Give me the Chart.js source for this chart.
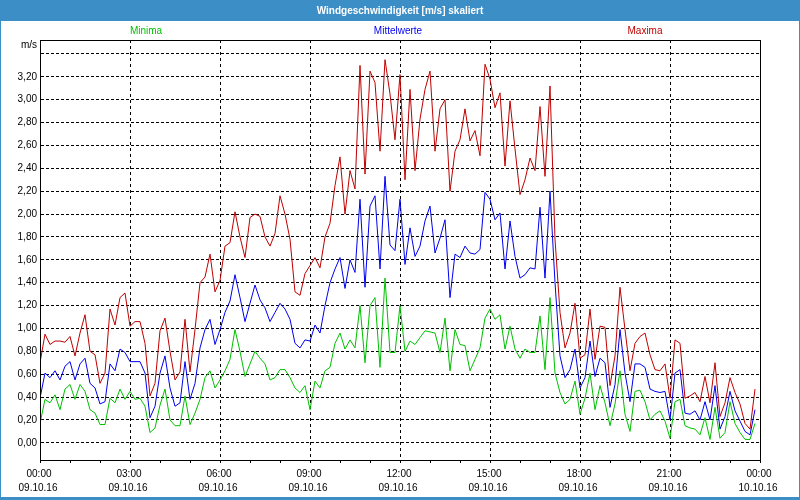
<!DOCTYPE html>
<html>
<head>
<meta charset="utf-8">
<script src="https://cdn.jsdelivr.net/npm/chart.js@4.4.0/dist/chart.umd.min.js"></script>
<style>
  html, body { margin: 0; padding: 0; background: #fff; }
  #wrap { width: 800px; height: 500px; }
</style>
</head>
<body>
<div id="wrap"><canvas id="c" width="800" height="500"></canvas></div>
<script>
const title = 'Windgeschwindigkeit [m/s] skaliert';
const unit = 'm/s';
const seriesNames = ['Minima', 'Mittelwerte', 'Maxima'];
const seriesColors = ['#00c000', '#0000f0', '#c00000'];
const timeLabels = ['00:00', '03:00', '06:00', '09:00', '12:00', '15:00', '18:00', '21:00', '00:00'];
const dateLabels = ['09.10.16', '09.10.16', '09.10.16', '09.10.16', '09.10.16', '09.10.16', '09.10.16', '09.10.16', '10.10.16'];
const yTicks = [0, 0.2, 0.4, 0.6, 0.8, 1.0, 1.2, 1.4, 1.6, 1.8, 2.0, 2.2, 2.4, 2.6, 2.8, 3.0, 3.2, 3.4];

// one value every 10 minutes, 09.10.16 00:00 .. 23:50
const minima = [
  0.17, 0.38, 0.35, 0.42, 0.29, 0.47, 0.51, 0.38, 0.51, 0.45, 0.29, 0.26, 0.16, 0.16, 0.39, 0.35, 0.47, 0.38, 0.45, 0.38, 0.39, 0.32, 0.09, 0.13,
  0.33, 0.47, 0.20, 0.15, 0.15, 0.41, 0.16, 0.26, 0.38, 0.57, 0.63, 0.48, 0.55, 0.63, 0.73, 0.99, 0.80, 0.58, 0.69, 0.80, 0.74, 0.69, 0.55, 0.57,
  0.64, 0.64, 0.57, 0.48, 0.44, 0.50, 0.29, 0.54, 0.48, 0.63, 0.66, 0.87, 0.96, 0.82, 0.90, 0.83, 1.20, 0.70, 1.20, 1.27, 0.66, 1.44, 0.79, 0.79,
  1.20, 0.80, 0.89, 0.86, 0.92, 0.98, 0.97, 0.96, 0.79, 1.09, 0.63, 0.99, 0.86, 0.85, 0.63, 0.73, 0.83, 1.09, 1.17, 1.08, 1.12, 0.82, 1.02, 0.82,
  0.74, 0.82, 0.79, 0.79, 1.11, 0.64, 1.27, 0.61, 0.44, 0.34, 0.38, 0.54, 0.25, 0.39, 0.61, 0.29, 0.50, 0.35, 0.15, 0.34, 0.63, 0.25, 0.10, 0.45,
  0.46, 0.36, 0.20, 0.25, 0.28, 0.19, 0.04, 0.36, 0.38, 0.15, 0.13, 0.12, 0.07, 0.22, 0.03, 0.31, 0.04, 0.09, 0.36, 0.17, 0.09, 0.03, 0.03, 0.17
];
const mittelwerte = [
  0.39, 0.61, 0.57, 0.63, 0.55, 0.67, 0.71, 0.55, 0.69, 0.74, 0.52, 0.48, 0.34, 0.36, 0.69, 0.63, 0.82, 0.79, 0.71, 0.71, 0.71, 0.61, 0.22, 0.32,
  0.61, 0.76, 0.48, 0.32, 0.35, 0.71, 0.38, 0.52, 0.83, 0.99, 1.08, 0.86, 0.99, 1.14, 1.24, 1.47, 1.27, 1.06, 1.22, 1.38, 1.25, 1.18, 1.06, 1.14,
  1.22, 1.17, 1.08, 0.87, 0.83, 0.90, 0.89, 1.03, 0.96, 1.20, 1.40, 1.52, 1.62, 1.35, 1.60, 1.49, 2.13, 1.36, 2.07, 2.16, 1.52, 2.33, 1.73, 1.68,
  2.13, 1.56, 1.88, 1.63, 1.72, 1.94, 2.07, 1.66, 1.79, 1.95, 1.27, 1.65, 1.62, 1.72, 1.66, 1.65, 1.69, 2.19, 2.13, 1.95, 2.01, 1.52, 1.94, 1.63,
  1.44, 1.47, 1.53, 1.52, 2.06, 1.44, 2.20, 1.40, 0.76, 0.57, 0.64, 0.82, 0.48, 0.57, 0.89, 0.58, 0.74, 0.70, 0.31, 0.51, 0.99, 0.61, 0.36, 0.69,
  0.69, 0.66, 0.47, 0.45, 0.44, 0.45, 0.20, 0.61, 0.64, 0.26, 0.25, 0.28, 0.20, 0.36, 0.20, 0.50, 0.12, 0.23, 0.45, 0.28, 0.19, 0.10, 0.07, 0.29
];
const maxima = [
  0.70, 0.95, 0.86, 0.89, 0.89, 0.88, 0.93, 0.76, 0.96, 1.12, 0.80, 0.77, 0.52, 0.61, 1.17, 1.03, 1.27, 1.31, 1.02, 1.06, 1.06, 0.87, 0.41, 0.52,
  0.98, 1.09, 0.80, 0.55, 0.62, 1.08, 0.62, 0.99, 1.40, 1.45, 1.65, 1.32, 1.42, 1.72, 1.75, 2.02, 1.80, 1.62, 1.97, 2.00, 1.98, 1.80, 1.72, 1.83,
  2.16, 2.00, 1.78, 1.32, 1.29, 1.48, 1.55, 1.62, 1.53, 1.80, 1.92, 2.25, 2.50, 2.00, 2.38, 2.22, 3.30, 2.35, 3.25, 3.15, 2.55, 3.35, 3.05, 2.65,
  3.22, 2.30, 3.09, 2.38, 2.83, 3.09, 3.25, 2.55, 2.92, 3.00, 2.20, 2.55, 2.65, 2.92, 2.64, 2.73, 2.51, 3.31, 3.18, 2.93, 3.06, 2.42, 2.99, 2.57,
  2.17, 2.30, 2.49, 2.38, 2.94, 2.33, 3.12, 1.78, 1.14, 0.83, 0.96, 1.22, 0.74, 0.77, 1.17, 0.73, 1.02, 1.01, 0.50, 0.76, 1.36, 0.99, 0.63, 0.87,
  0.93, 0.96, 0.77, 0.64, 0.63, 0.69, 0.39, 0.90, 0.87, 0.39, 0.41, 0.44, 0.36, 0.58, 0.35, 0.70, 0.23, 0.35, 0.57, 0.44, 0.34, 0.17, 0.12, 0.47
];

const FONT = '"Liberation Sans", Arial, sans-serif';
const STEPS_PER_LABEL = 18; // 3 hours in 10 min steps
const hourTicks = [];
for (let i = 0; i <= 144; i += 6) hourTicks.push(i);

const toPoints = (arr) => arr.map((v, i) => ({ x: i, y: v }));

// window frame, title bar, series names, unit, plot border, two-line time labels
const framePlugin = {
  id: 'frame',
  beforeDraw(chart) {
    const { ctx, width, height } = chart;
    ctx.save();
    ctx.fillStyle = '#3c8ec6';
    ctx.fillRect(0, 0, width, height);
    ctx.fillStyle = '#ffffff';
    ctx.fillRect(1, 21, width - 2, height - 24);
    ctx.font = 'bold 10px ' + FONT;
    ctx.textAlign = 'center';
    ctx.textBaseline = 'middle';
    ctx.fillText(title, width / 2, 11);
    ctx.restore();
  },
  afterDraw(chart) {
    const { ctx, chartArea } = chart;
    const xScale = chart.scales.x;
    ctx.save();
    ctx.strokeStyle = '#000';
    ctx.lineWidth = 1;
    ctx.strokeRect(chartArea.left + 0.5, chartArea.top + 0.5, chartArea.right - chartArea.left, chartArea.bottom - chartArea.top);
    ctx.font = '10px ' + FONT;
    ctx.textBaseline = 'middle';
    ctx.textAlign = 'center';
    const legendX = [146, 398, 645];
    seriesNames.forEach((name, i) => {
      ctx.fillStyle = seriesColors[i];
      ctx.fillText(name, legendX[i], 31);
    });
    ctx.fillStyle = '#000';
    timeLabels.forEach((t, i) => {
      const x = xScale.getPixelForValue(i * STEPS_PER_LABEL) - 1;
      ctx.fillText(t, x, xScale.top + 14);
      ctx.fillText(dateLabels[i], x - 1, xScale.top + 28);
    });
    ctx.textAlign = 'right';
    ctx.fillText(unit, chartArea.left - 3, chartArea.top + 5);
    ctx.restore();
  }
};

new Chart(document.getElementById('c'), {
  type: 'line',
  data: {
    datasets: [
      { label: seriesNames[0], data: toPoints(minima), borderColor: seriesColors[0] },
      { label: seriesNames[1], data: toPoints(mittelwerte), borderColor: seriesColors[1] },
      { label: seriesNames[2], data: toPoints(maxima), borderColor: seriesColors[2] }
    ].map((d) => Object.assign(d, { borderWidth: 1, pointRadius: 0, tension: 0, fill: false }))
  },
  plugins: [framePlugin],
  options: {
    responsive: false,
    animation: false,
    devicePixelRatio: 1,
    layout: { padding: { left: 0, top: 40, right: 40, bottom: 0 } },
    plugins: {
      legend: { display: false },
      tooltip: { enabled: false },
      title: { display: false }
    },
    scales: {
      x: {
        type: 'linear',
        min: 0,
        max: 144,
        afterBuildTicks: (scale) => { scale.ticks = hourTicks.map((v) => ({ value: v })); },
        afterFit: (scale) => { scale.height = 40; },
        ticks: { display: false },
        grid: {
          color: (ctx) => (ctx.tick && ctx.tick.value % STEPS_PER_LABEL === 0 ? '#000' : 'rgba(0,0,0,0)'),
          tickColor: '#000',
          tickLength: 3,
          tickBorderDash: [],
          lineWidth: 1
        },
        border: { color: '#000', width: 1, dash: [3, 3] }
      },
      y: {
        min: -0.15,
        max: 3.522,
        afterBuildTicks: (scale) => { scale.ticks = yTicks.map((v) => ({ value: v })); },
        afterFit: (scale) => { scale.width = 40; },
        ticks: {
          padding: 3,
          color: '#000',
          font: { family: FONT, size: 10 },
          callback: (value) => (value > 3.3 ? '' : value.toFixed(2).replace('.', ','))
        },
        grid: { color: '#000', drawTicks: false, lineWidth: 1 },
        border: { color: '#000', width: 1, dash: [3, 2] }
      }
    }
  }
});
</script>
</body>
</html>
